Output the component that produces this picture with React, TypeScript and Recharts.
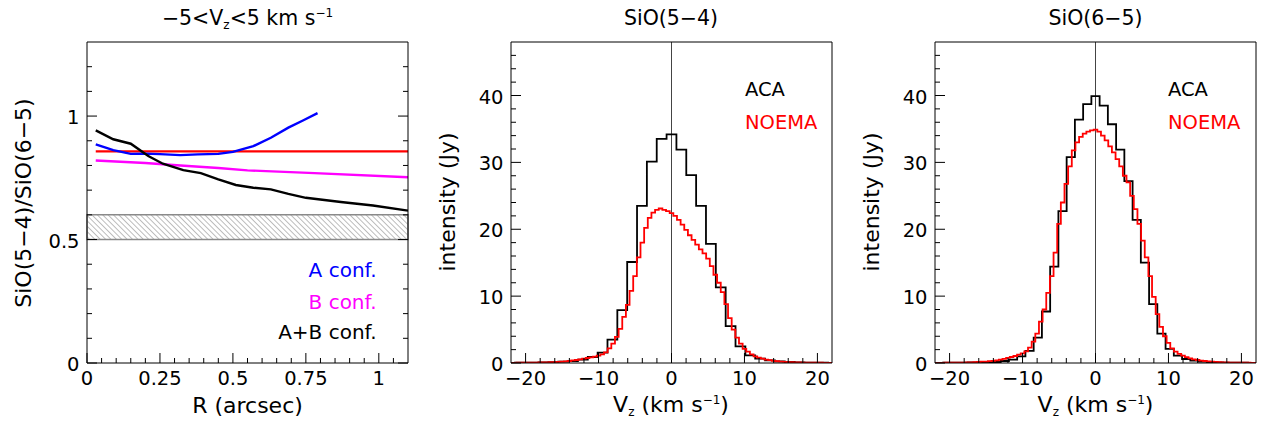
import React from 'react';
import { ComposedChart, Line, XAxis, YAxis, ReferenceArea, ReferenceLine } from 'recharts';

const FONT = '"DejaVu Sans", Verdana, sans-serif';

// left panel: SiO(5-4)/SiO(6-5) ratio vs R (arcsec)
const rBlue = [0.03, 0.09, 0.15, 0.2, 0.25, 0.32, 0.38, 0.45, 0.5, 0.57, 0.63, 0.69, 0.74, 0.79];
const ratioBlue = [0.885, 0.862, 0.847, 0.848, 0.846, 0.842, 0.845, 0.847, 0.855, 0.878, 0.912, 0.953, 0.982, 1.012];
const rMagenta = [0.03, 0.2, 0.32, 0.45, 0.55, 0.78, 1.1];
const ratioMagenta = [0.82, 0.81, 0.8, 0.79, 0.78, 0.769, 0.752];
const rBlack = [0.03, 0.09, 0.15, 0.21, 0.26, 0.33, 0.39, 0.45, 0.51, 0.57, 0.63, 0.69, 0.75, 0.87, 0.98, 1.1];
const ratioBlack = [0.942, 0.906, 0.888, 0.838, 0.807, 0.781, 0.769, 0.744, 0.721, 0.71, 0.703, 0.685, 0.669, 0.652, 0.638, 0.617];
const rRed = [0.03, 1.1];
const ratioRed = [0.857, 0.857];
const bandLow = 0.5;
const bandHigh = 0.6;

const rTicks = [0, 0.25, 0.5, 0.75, 1];
const ratioTicks = [0, 0.5, 1];

// spectra: ACA channels (bin centre = k * width), NOEMA channels from -22 every 0.5
const aca54Width = 1.35;
const aca54First = -16;
const aca54 = [
  0.04, 0.05, 0.06, 0.08, 0.12, 0.2,
  0.3, 0.5, 0.9, 1.55, 3.5,
  7.9, 15.1, 23.5, 30.1, 33.5,
  34.2,
  31.9, 28.1, 23.5, 17.8, 11.3,
  5.5, 2.5, 1.15, 0.65, 0.4,
  0.25, 0.15, 0.1, 0.07, 0.05, 0.04,
];
const aca65Width = 1.13;
const aca65First = -19;
const aca65 = [
  0.03, 0.04, 0.05, 0.06, 0.08, 0.1, 0.12,
  0.15, 0.3, 0.5, 1.0, 1.8,
  3.8, 7.7, 14.4, 22.7, 30.8, 36.4, 38.7,
  39.9,
  38.5, 35.7, 31.9, 27.2, 21.4, 15.0, 8.8,
  4.4, 2.1, 1.1, 0.6, 0.35,
  0.2, 0.12, 0.08, 0.06, 0.05, 0.04, 0.03,
];
const noemaStart = -22;
const noemaWidth = 0.5;
const noema54 = [
  0.03, 0.03, 0.04, 0.04, 0.05, 0.05, 0.06, 0.07, 0.08, 0.09,
  0.1, 0.11, 0.13, 0.16, 0.2, 0.25, 0.3, 0.38, 0.45, 0.55,
  0.65, 0.75, 0.85, 0.95, 1.1, 1.3, 1.6, 2.2, 2.9, 3.9,
  5.1, 6.9, 8.7, 10.8, 13.0, 15.8, 18.0, 20.2, 21.7, 22.5,
  22.9, 23.1, 22.9, 22.7, 22.4, 22.0, 21.4, 20.7, 19.9, 19.1,
  18.4, 17.7, 17.0, 16.4, 15.6, 14.5, 13.2, 12.0, 10.6, 8.8,
  6.7, 5.0, 3.8, 2.9, 2.1, 1.7, 1.3, 1.0, 0.8, 0.65,
  0.5, 0.42, 0.32, 0.26, 0.2, 0.17, 0.14, 0.12, 0.1, 0.09,
  0.07, 0.06, 0.05, 0.05, 0.04, 0.04, 0.03, 0.03, 0.03,
];
const noema65 = [
  0.03, 0.03, 0.03, 0.04, 0.04, 0.05, 0.05, 0.06, 0.07, 0.08,
  0.1, 0.12, 0.15, 0.2, 0.22, 0.27, 0.33, 0.4, 0.5, 0.62,
  0.78, 0.9, 1.05, 1.25, 1.45, 1.75, 2.3, 3.2, 4.4, 6.2,
  8.0, 10.5, 13.0, 16.5, 20.8, 24.0, 26.8, 29.4, 31.8, 33.0,
  33.8, 34.3, 34.6, 34.8, 34.9, 34.6, 34.0, 33.3, 32.4, 31.5,
  30.5, 29.4, 28.0, 27.0, 25.0, 23.0, 20.8, 18.3, 15.8, 13.0,
  9.9, 7.3, 5.4, 4.0, 3.0, 2.2, 1.7, 1.35, 1.1, 0.88,
  0.7, 0.55, 0.45, 0.36, 0.3, 0.25, 0.2, 0.16, 0.12, 0.1,
  0.08, 0.07, 0.06, 0.05, 0.05, 0.04, 0.04, 0.03, 0.03,
];

const vTicks = [-20, -10, 0, 10, 20];
const jyTicks = [0, 10, 20, 30, 40];

const round = (v: number) => Math.round(v * 1000) / 1000;
const steps = (a: number, b: number, s: number) => {
  const out: number[] = [];
  for (let v = a; v <= b + 1e-9; v += s) out.push(round(v));
  return out;
};
const pairs = (xs: number[], ys: number[]) => xs.map((x, i) => ({ x, y: ys[i] }));
const bins = (first: number, width: number, ys: number[]) =>
  ys.map((y, i) => ({ x: round((first + i) * width), y }));
const noemaBins = (ys: number[]) => ys.map((y, i) => ({ x: round(noemaStart + i * noemaWidth), y }));

const isMajor = (v: number, list: number[]) => list.some((m) => Math.abs(m - v) < 1e-6);
const fmt = (v: number) => (v < 0 ? '\u2212' + Math.abs(v) : String(v));

const PLOT_W = 321;
const TICK_FS = 19.5;

// ticks point inwards, like ROOT
function xTick(majors: number[]) {
  return (p: any) => {
    const v = p.payload.value;
    const major = isMajor(v, majors);
    return (
      <g>
        <line x1={p.x} x2={p.x} y1={p.y} y2={p.y - (major ? 10 : 5)} stroke="#000" strokeWidth={1} />
        {major && (
          <text x={p.x} y={p.y + 21.5} textAnchor="middle" fontSize={TICK_FS} fontFamily={FONT} fill="#000">
            {fmt(v)}
          </text>
        )}
      </g>
    );
  };
}

function yTick(majors: number[], both: boolean) {
  return (p: any) => {
    const v = p.payload.value;
    const major = isMajor(v, majors);
    const len = major ? 10 : 5;
    return (
      <g>
        <line x1={p.x} x2={p.x + len} y1={p.y} y2={p.y} stroke="#000" strokeWidth={1} />
        {both && <line x1={p.x + PLOT_W} x2={p.x + PLOT_W - len} y1={p.y} y2={p.y} stroke="#000" strokeWidth={1} />}
        {major && (
          <text x={p.x - 7.5} y={p.y + 8} textAnchor="end" fontSize={TICK_FS} fontFamily={FONT} fill="#000">
            {fmt(v)}
          </text>
        )}
      </g>
    );
  };
}

const CHART_W = 415;
const CHART_H = 425;
// plot box: left 87, top 42, width 321, height 321 (axes take 20 / 1 px of it)
const MARGIN = { top: 41, left: 67, right: 6, bottom: 42 };

function RatioPanel() {
  const xDom = [0, 1.1];
  const yDom = [0, 1.3];
  return (
    <ComposedChart width={CHART_W} height={CHART_H} margin={MARGIN}>
      <defs>
        <pattern id="hatch" width="3.8" height="3.8" patternUnits="userSpaceOnUse" patternTransform="rotate(-45)">
          <line x1="0" y1="0" x2="0" y2="3.8" stroke="#7a7a7a" strokeWidth="1" />
        </pattern>
      </defs>
      <XAxis dataKey="x" type="number" domain={xDom} allowDataOverflow ticks={steps(0, 1.05, 0.05)} interval={0}
        tick={xTick(rTicks)} tickLine={false} tickSize={0} tickMargin={0} height={20} axisLine={{ stroke: '#000' }} />
      <XAxis xAxisId="top" dataKey="x" type="number" orientation="top" domain={xDom} allowDataOverflow
        tick={false} tickLine={false} height={1} axisLine={{ stroke: '#000' }} />
      <YAxis type="number" domain={yDom} allowDataOverflow ticks={steps(0, 1.2, 0.1)} interval={0}
        tick={yTick(ratioTicks, true)} tickLine={false} tickSize={0} tickMargin={0} width={20} axisLine={{ stroke: '#000' }} />
      <YAxis yAxisId="right" type="number" orientation="right" domain={yDom} allowDataOverflow
        tick={false} tickLine={false} width={1} axisLine={{ stroke: '#000' }} />
      <ReferenceArea y1={bandLow} y2={bandHigh} fill="url(#hatch)" fillOpacity={1} stroke="#8a8a8a" strokeWidth={1.5} />
      <Line data={pairs(rRed, ratioRed)} dataKey="y" stroke="#ff0000" strokeWidth={2.4} dot={false} isAnimationActive={false} />
      <Line data={pairs(rMagenta, ratioMagenta)} dataKey="y" stroke="#ff00ff" strokeWidth={2.4} dot={false} isAnimationActive={false} />
      <Line data={pairs(rBlue, ratioBlue)} dataKey="y" stroke="#0000ff" strokeWidth={2.4} dot={false} isAnimationActive={false} />
      <Line data={pairs(rBlack, ratioBlack)} dataKey="y" stroke="#000000" strokeWidth={2.4} dot={false} isAnimationActive={false} />
    </ComposedChart>
  );
}

function SpectrumPanel({ aca, noema }: { aca: { x: number; y: number }[]; noema: { x: number; y: number }[] }) {
  const xDom = [-22, 22];
  const yDom = [0, 48];
  return (
    <ComposedChart width={CHART_W} height={CHART_H} margin={MARGIN}>
      <XAxis dataKey="x" type="number" domain={xDom} allowDataOverflow ticks={steps(-20, 20, 2)} interval={0}
        tick={xTick(vTicks)} tickLine={false} tickSize={0} tickMargin={0} height={20} axisLine={{ stroke: '#000' }} />
      <XAxis xAxisId="top" dataKey="x" type="number" orientation="top" domain={xDom} allowDataOverflow
        tick={false} tickLine={false} height={1} axisLine={{ stroke: '#000' }} />
      <YAxis type="number" domain={yDom} allowDataOverflow ticks={steps(0, 46, 2)} interval={0}
        tick={yTick(jyTicks, false)} tickLine={false} tickSize={0} tickMargin={0} width={20} axisLine={{ stroke: '#000' }} />
      <YAxis yAxisId="right" type="number" orientation="right" domain={yDom} allowDataOverflow
        tick={false} tickLine={false} width={1} axisLine={{ stroke: '#000' }} />
      <ReferenceLine x={0} stroke="#444" strokeWidth={1} />
      <Line data={aca} dataKey="y" type="step" stroke="#000000" strokeWidth={1.8} dot={false} isAnimationActive={false} />
      <Line data={noema} dataKey="y" type="step" stroke="#ff0000" strokeWidth={1.8} dot={false} isAnimationActive={false} />
    </ComposedChart>
  );
}

const T = { fontFamily: FONT, fill: '#000' };

function Sub({ children }: { children: string }) {
  return <tspan fontSize={12} dy={4}>{children}</tspan>;
}

export default function App() {
  return (
    <div style={{ position: 'relative', width: 1265, height: 425, overflow: 'hidden', background: '#fff' }}>
      <style>{'body{margin:0}'}</style>
      <div style={{ position: 'absolute', left: 0, top: 0 }}>
        <RatioPanel />
      </div>
      <div style={{ position: 'absolute', left: 424, top: 0 }}>
        <SpectrumPanel aca={bins(aca54First, aca54Width, aca54)} noema={noemaBins(noema54)} />
      </div>
      <div style={{ position: 'absolute', left: 848, top: 0 }}>
        <SpectrumPanel aca={bins(aca65First, aca65Width, aca65)} noema={noemaBins(noema65)} />
      </div>
      <svg width={1265} height={425} style={{ position: 'absolute', left: 0, top: 0, pointerEvents: 'none' }}>
        {/* titles */}
        <text x={247.5} y={25} textAnchor="middle" fontSize={20.5} {...T}>
          {'\u22125<V'}<Sub>z</Sub><tspan dy={-4}>{'<5 km s'}</tspan><tspan fontSize={12} dy={-8}>{'\u22121'}</tspan>
        </text>
        <text x={671} y={25} textAnchor="middle" fontSize={20.5} {...T}>SiO(5{'\u2212'}4)</text>
        <text x={1095.5} y={25} textAnchor="middle" fontSize={20.5} {...T}>SiO(6{'\u2212'}5)</text>

        {/* axis titles */}
        <text x={247.5} y={413} textAnchor="middle" fontSize={22} {...T}>R (arcsec)</text>
        {[671, 1095.5].map((cx) => (
          <text key={cx} x={cx} y={412} textAnchor="middle" fontSize={22} {...T}>
            V<Sub>z</Sub><tspan dy={-4}>{' (km s'}</tspan><tspan fontSize={12} dy={-8}>{'\u22121'}</tspan><tspan dy={8}>)</tspan>
          </text>
        ))}
        <text transform="translate(31,203) rotate(-90)" textAnchor="middle" fontSize={22} {...T}>
          SiO(5{'\u2212'}4)/SiO(6{'\u2212'}5)
        </text>
        <text transform="translate(455,202) rotate(-90)" textAnchor="middle" fontSize={22} {...T}>intensity (Jy)</text>
        <text transform="translate(879,202) rotate(-90)" textAnchor="middle" fontSize={22} {...T}>intensity (Jy)</text>

        {/* legends */}
        <text x={376.5} y={277} textAnchor="end" fontSize={20} fontFamily={FONT} fill="#0000ff">A conf.</text>
        <text x={376.5} y={308.5} textAnchor="end" fontSize={20} fontFamily={FONT} fill="#ff00ff">B conf.</text>
        <text x={376.5} y={338.5} textAnchor="end" fontSize={20} fontFamily={FONT} fill="#000">A+B conf.</text>

        <text x={745} y={95.5} fontSize={19.5} {...T}>ACA</text>
        <text x={745} y={129} fontSize={19.5} fontFamily={FONT} fill="#ff0000">NOEMA</text>
        <text x={1168} y={95.5} fontSize={19.5} {...T}>ACA</text>
        <text x={1168} y={129} fontSize={19.5} fontFamily={FONT} fill="#ff0000">NOEMA</text>
      </svg>
    </div>
  );
}
